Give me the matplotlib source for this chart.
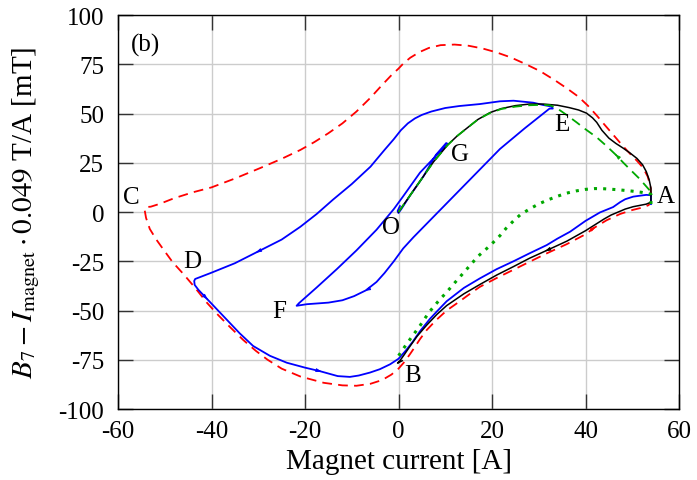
import numpy as np
import matplotlib
matplotlib.use("Agg")
import matplotlib.pyplot as plt

plt.rcParams["font.family"] = ["Liberation Serif", "DejaVu Serif"]
plt.rcParams["mathtext.fontset"] = "stix"
plt.rcParams["axes.unicode_minus"] = False
plt.rcParams["lines.scale_dashes"] = False

# red dashed: major loop A -> C -> B -> A
red_x = [54, 53.9, 53.3, 52.3, 51, 49.9, 48, 46, 44, 42.4, 40.5, 38.5, 36, 33.5, 30.3,
         27, 24, 21, 18, 15, 12, 9, 6.5, 4.5, 2.5, 1, 0, -1.5, -3.5, -6, -9, -12, -15,
         -18, -21, -25, -29.6, -35, -40, -44, -48, -51, -53, -54, -54.3, -54, -53.2,
         -51.8, -50.3, -48.3, -46, -43.5, -41, -38.5, -36, -33.2, -30.5, -28, -25, -21,
         -16, -12, -9, -6, -3.5, -1.5, 0, 1.3, 2.5, 3.5, 4.6, 6, 8, 10.3, 13, 15, 17.4,
         21, 24.6, 28, 31.7, 36, 40, 42, 44.5, 47.4, 50, 52.4, 53.5, 54]
red_y = [8, 13, 18, 22.5, 26, 28.6, 33.5, 39, 44.5, 49, 54, 58.5, 62.8, 66.8, 71.5,
         75.3, 78.5, 81, 83, 84.4, 85, 84.7, 83.3, 81.2, 78.3, 75.3, 72.8, 69.5, 64.5,
         58, 51, 45, 40, 35.5, 31.5, 27, 22.3, 17, 12.5, 10, 7, 4.2, 2.7, 2.5, 1, -3,
         -8.6, -14, -19, -25.5, -31.5, -38.5, -46, -52.5, -58.5, -65, -70.5, -75, -79.5,
         -83.5, -86.7, -88, -88.2, -87.2, -85.3, -82.5, -79.5, -76, -72, -68.5, -64.5,
         -60, -55, -50, -45.5, -42, -38, -33.5, -29.3, -25.3, -21, -16.3, -11.3, -7.8,
         -4.2, -1, 1, 2.4, 3.5, 5]

# blue: A -> B -> D -> E -> F -> G -> O
blue_x = [54, 54, 53, 51.7, 50.2, 48.5, 47.4, 45.9, 43.1, 40, 36.7, 34, 31.7, 28, 24.6,
          21, 17.4, 14, 10.3, 8.2, 6.7, 4.6, 3, 1.5, 0, -1.8, -4, -6.1, -8.5, -10.4,
          -13, -16.8, -20, -23.9, -27.5, -31.1, -34, -36.8, -39, -41, -42.8, -43.6,
          -43.7, -43.5, -40, -35, -30, -25, -21, -17.5, -14, -10, -6, -3, -1, 0.5, 2,
          3.5, 5, 7, 10, 13, 17.4, 21.7, 24.6, 28.8, 31, 32.8, 33, 32.3, 27, 21.7, 3.2,
          1, -1, -3, -4.7, -7, -9.5, -12, -15, -19.6, -21.8, -21.3, -17.5, -13.2, -9,
          -4.7, -1, 1, 4.6, 8, 10.6, 10.2, 8, 5.3, 2.5, 0.6, 0, -0.2, 0.3]
blue_y = [4, 8.5, 8.7, 8.3, 7.8, 6.5, 5, 2.5, -0.2, -4.5, -10, -13.5, -16.8, -21, -25,
          -29, -33.7, -38.5, -45.3, -50.5, -54.3, -60.5, -66, -70.5, -74.5, -77.3,
          -79.8, -81.5, -83, -83.7, -83.3, -80.8, -79, -76.5, -73, -68, -61.5, -54.5,
          -49, -44, -39.5, -37, -35, -34, -30.8, -26, -20, -14, -7.5, -1, 6.3, 14.2,
          23, 31.5, 37, 41.5, 45, 47.5, 49.3, 51, 52.8, 53.8, 54.8, 56.2, 56.5, 55.5,
          54.3, 53.5, 52.5, 52.5, 42.5, 32, -12.8, -18.5, -25, -31, -35.5, -39.8,
          -42.7, -44.8, -46, -46.8, -47.6, -46.3, -38.3, -29, -19.5, -9, 1.5, 8, 20,
          28.5, 34.5, 35, 29, 18, 8.5, 1.5, -0.5, 0.5, 3]

# black: O -> A -> B
black_x = [0, 2.5, 5, 7.5, 10.5, 12.5, 14.6, 17, 19.6, 22, 25, 28, 31, 34, 36.5, 38.5,
           40.2, 41.5, 42.4, 43.5, 45, 46.5, 48, 49.5, 51, 52.2, 53, 53.6, 54, 54, 53,
           51.5, 50.2, 48.5, 47, 45.5, 44, 42, 40, 36, 31.7, 28, 24.6, 21, 17.4, 14,
           10.3, 8.2, 6, 4, 2.5, 1.2, 0.3, -0.2, 0.8]
black_y = [0, 8.5, 17, 25.5, 34, 38.5, 42.5, 47, 50.5, 52.5, 54, 54.8, 54.8, 54.2, 53,
           51.8, 50.2, 47.8, 45.5, 41.5, 37.5, 34.8, 32.5, 30, 27.2, 24, 20.5, 16.5, 12,
           5, 4, 3.3, 2.7, 1.5, 0, -1.5, -3.5, -6.5, -9.5, -14.8, -19.5, -23.5, -27.7,
           -32, -36.8, -41.5, -47.5, -52, -57.5, -63, -68, -72.5, -75.5, -76.7, -75.5]

# green dashed: O -> G -> E -> A
gdash_x = [0, 2.5, 5, 7.5, 10.5, 12.5, 14.6, 17, 19.6, 22, 25, 28, 30.5, 32.4, 34, 36,
           38.1, 40, 42.4, 44.5, 46.5, 48.1, 50, 51.5, 52.8, 53.8, 54]
gdash_y = [0, 8.5, 17, 25.5, 34, 38.5, 42.5, 47, 50.3, 52.3, 53.5, 54.2, 54.4, 54.2,
           52.5, 49.2, 45.5, 42, 37.9, 33.5, 29, 25, 20.5, 17, 13.5, 10.8, 9]

# green dotted: A -> B
gdot_x = [54, 54, 52, 50, 47, 44, 42, 40, 38, 36, 34, 32, 30, 28, 26, 24.6, 23, 21.7,
          19.6, 17, 14.6, 12, 10, 8.9, 6.5, 4.6, 2.8, 1, 0]
gdot_y = [4, 9, 10, 10.6, 11.3, 11.8, 11.9, 11.5, 10.7, 9.6, 8, 6.2, 4.1, 1.5, -1.5,
          -4.5, -8.3, -12, -17, -22.5, -29, -36, -41.5, -44.2, -51, -57.7, -63.5,
          -69.5, -73]

point_labels = ["A", "B", "C", "D", "E", "F", "G", "O"]
label_x = [57.2, 3.0, -57.1, -44.1, 34.9, -25.5, 13.2, -1.6]
label_y = [7.9, -82.6, 7.5, -25.1, 44.7, -50.5, 29.4, -7.8]


def barb(ax, xs, ys, i, step, color):
    # tiny arrow head on a curve, pointing from point i towards point i+step
    x0, y0 = xs[i], ys[i]
    x1, y1 = xs[i + step], ys[i + step]
    tip = (x0 + 0.12 * (x1 - x0), y0 + 0.12 * (y1 - y0))
    ax.annotate("", xy=tip, xytext=(x0, y0), zorder=6,
                arrowprops=dict(arrowstyle="-|>,head_length=0.5,head_width=0.15",
                                color=color, lw=0.6, shrinkA=0, shrinkB=0,
                                mutation_scale=7))


fig = plt.figure(figsize=(6.97, 4.81), dpi=100)
ax = fig.add_axes([0.1693, 0.1476, 0.9742 - 0.1693, 0.9667 - 0.1476])

ax.plot(red_x, red_y, color="#ff0000", lw=1.3, dashes=(7, 4.5), zorder=2)
ax.plot(blue_x, blue_y, color="#0000ff", lw=1.3, zorder=3)
ax.plot(black_x, black_y, color="black", lw=1.1, zorder=4)
ax.plot(gdash_x, gdash_y, color="#00a800", lw=1.3, dashes=(7, 4.5), zorder=5)
ax.plot(gdot_x, gdot_y, color="#00a800", lw=2.2, dashes=(2.2, 4.4), zorder=5)

barb(ax, blue_x, blue_y, 46, -1, "#0000ff")
barb(ax, blue_x, blue_y, 39, -1, "#0000ff")
barb(ax, blue_x, blue_y, 31, -1, "#0000ff")
barb(ax, blue_x, blue_y, 77, 1, "#0000ff")
barb(ax, black_x, black_y, 40, 1, "black")
barb(ax, red_x, red_y, -7, 1, "#ff0000")
barb(ax, gdash_x, gdash_y, 20, -1, "#00a800")

for t, x, y in zip(point_labels, label_x, label_y):
    ax.text(x, y, t, fontsize=18, ha="center", va="center", zorder=6)
ax.text(-57.3, 85, "(b)", fontsize=18, ha="left", va="center")

ax.set_xlim(-60, 60)
ax.set_ylim(-100, 100)
ax.set_xticks(np.arange(-60, 61, 20))
ax.set_yticks(np.arange(-100, 101, 25))
ax.grid(True, color="#cccccc", lw=1)
ax.set_axisbelow(True)
ax.tick_params(direction="in", length=11, width=1, color="#333333", top=True,
               right=True, labelsize=18)
ax.tick_params(axis="x", pad=8)
ax.tick_params(axis="y", pad=10)
for s in ax.spines.values():
    s.set_linewidth(1)

ax.set_xlabel("Magnet current [A]", fontsize=21)
ax.set_ylabel(r"$B_7 - I_{\mathrm{magnet}} \cdot 0.049$ T/A [mT]", fontsize=21)
ax.xaxis.set_label_coords(0.5, -0.1)
ax.yaxis.set_label_coords(-0.135, 0.5)

fig.savefig("out.png", dpi=100)
